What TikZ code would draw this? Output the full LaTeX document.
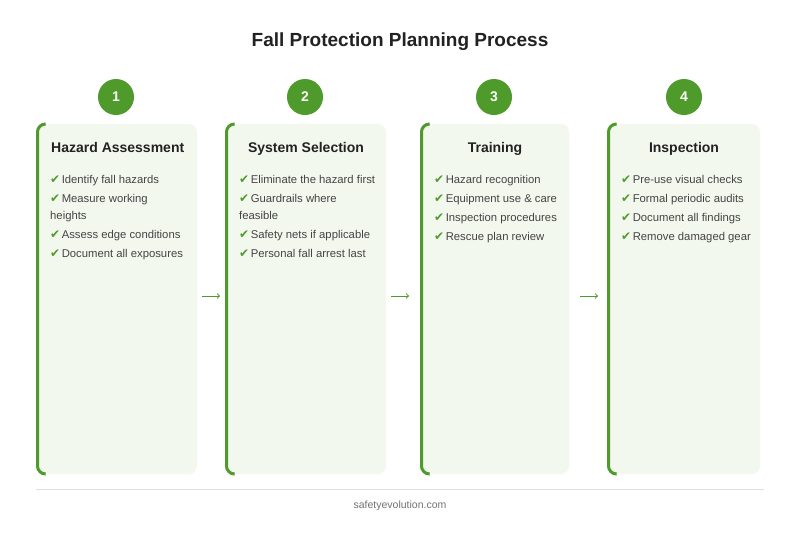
\documentclass[tikz,border=0pt]{standalone}
\usepackage{fontspec}
\setmainfont{Liberation Sans}
\newfontfamily\symfont{DejaVu Sans}
\usetikzlibrary{positioning}
\definecolor{leaf}{HTML}{4E9A2A}
\definecolor{cardbg}{HTML}{F3F8EF}
\definecolor{ink}{HTML}{222222}
\definecolor{body}{HTML}{444444}
\newcommand{\tick}{{\color{leaf}\symfont\fontsize{12}{12}\selectfont ✔}\kern1.5pt}
\begin{document}
\begin{tikzpicture}[x=1pt,y=-1pt]
\tikzstyle{badge} = [circle, fill=leaf, minimum size=36pt, inner sep=0pt,
text=white, font=\bfseries\fontsize{14}{16}\selectfont]
\tikzstyle{heading} = [anchor=north west, inner sep=0pt, text=ink,
font=\bfseries\fontsize{14}{16}\selectfont]
\tikzstyle{items} = [anchor=north west, inner sep=0pt, align=left, text=body,
font=\fontsize{11.3}{17}\selectfont]
\tikzstyle{flow} = [->, >=to, leaf, line width=1pt]
\useasboundingbox (0,0) rectangle (800,536);
\fill[white] (0,0) rectangle (800,536);
\node[text=ink, font=\bfseries\fontsize{19}{22}\selectfont] (title) at (400,42) {Fall Protection Planning Process};
% cards
\foreach \x/\w/\n in {36/161/hazard, 225/161/system, 420/149/training, 607/153/inspect}{
  \fill[cardbg, rounded corners=8pt] (\x,124) rectangle ++(\w,350);
  \draw[leaf, line width=3pt, rounded corners=8pt] (\x+9,124) -- (\x+1.5,124) -- (\x+1.5,474) -- (\x+9,474);
  \coordinate (\n) at (\x+\w/2,124);
}
% badges
\node[badge] (b1) at (116,97) {1};
\node[badge] (b2) at (305,97) {2};
\node[badge] (b3) at (494,97) {3};
\node[badge] (b4) at (684,97) {4};
% headings
\node[heading] (h1) at (51,142) {Hazard Assessment};
\node[heading, anchor=north] (h2) at (306,142) {System Selection};
\node[heading, anchor=north] (h3) at (495,142) {Training};
\node[heading, anchor=north] (h4) at (684,142) {Inspection};
% lists
\node[items] (l1) at (50,175) {\tick Identify fall hazards\\[2pt]
\tick Measure working\\ heights\\[2pt] \tick Assess edge conditions\\[2pt]
\tick Document all exposures};
\node[items] (l2) at (239,175) {\tick Eliminate the hazard first\\[2pt]
\tick Guardrails where\\ feasible\\[2pt] \tick Safety nets if applicable\\[2pt]
\tick Personal fall arrest last};
\node[items] (l3) at (434,175) {\tick Hazard recognition\\[2pt]
\tick Equipment use \& care\\[2pt] \tick Inspection procedures\\[2pt]
\tick Rescue plan review};
\node[items] (l4) at (621,175) {\tick Pre-use visual checks\\[2pt]
\tick Formal periodic audits\\[2pt] \tick Document all findings\\[2pt]
\tick Remove damaged gear};
% arrows between cards
\coordinate (a1) at (202,296); \coordinate (a1e) at (220,296);
\coordinate (a2) at (391,296); \coordinate (a2e) at (409,296);
\coordinate (a3) at (580,296); \coordinate (a3e) at (598,296);
\draw[flow] (a1) -- (a1e);
\draw[flow] (a2) -- (a2e);
\draw[flow] (a3) -- (a3e);
% footer
\coordinate (fl) at (36,489); \coordinate (fr) at (764,489);
\draw[black!12, line width=0.8pt] (fl) -- (fr);
\node[text=black!55, font=\fontsize{10.5}{12}\selectfont] (site) at (400,506) {safetyevolution.com};
\end{tikzpicture}
\end{document}
